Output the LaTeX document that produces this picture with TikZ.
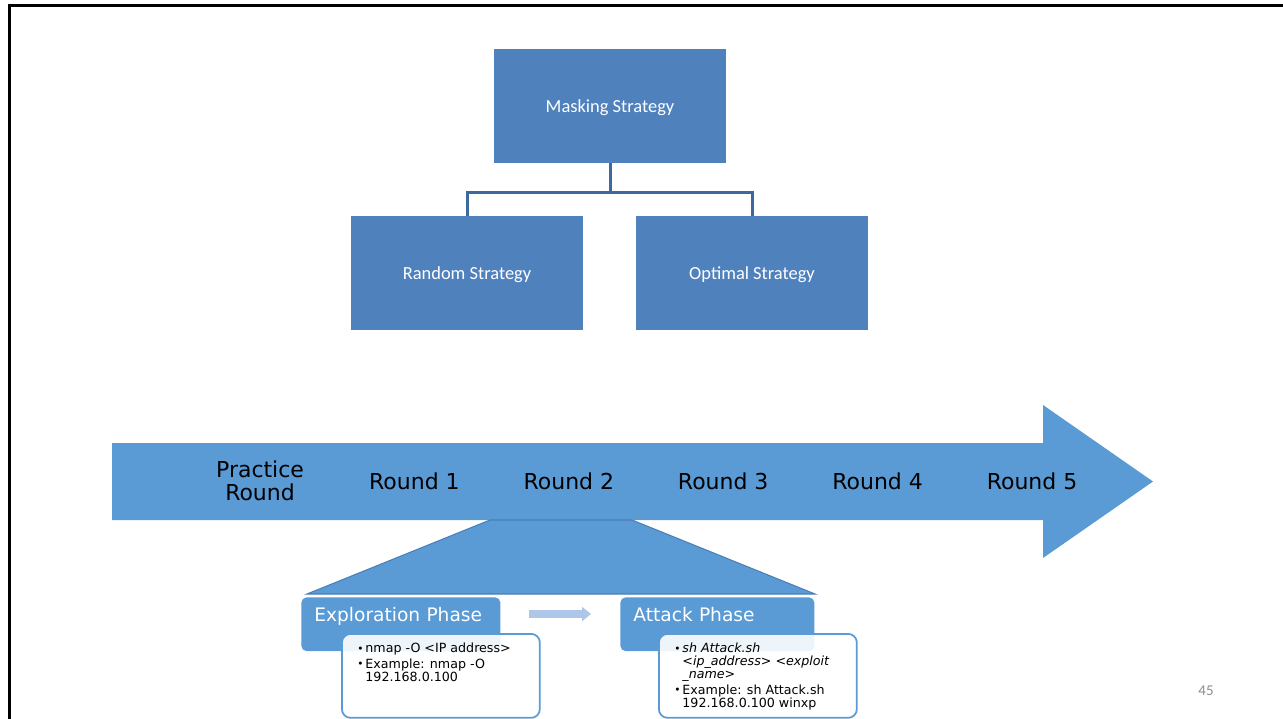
\documentclass[tikz,border=0pt]{standalone}
\usepackage{fontspec}
\newfontfamily\calfont{Carlito}
\newfontfamily\roundfont{DejaVu Sans}
\usetikzlibrary{arrows.meta}
\definecolor{maskblue}{HTML}{4F81BD}
\definecolor{linkblue}{HTML}{3D6A9E}
\definecolor{arrowblue}{HTML}{5B9BD5}
\definecolor{edgeblue}{HTML}{4A7FB6}
\definecolor{paleblue}{HTML}{AEC7E8}
\definecolor{numgrey}{HTML}{8C8C8C}
\newcommand{\bul}{\makebox[4.6pt][l]{\raisebox{0.4pt}{\fontsize{6}{6}\selectfont\textbullet}}}
\newcommand{\cont}{\hspace*{4.6pt}}
\begin{document}
\begin{tikzpicture}[x=0.02cm,y=-0.02cm]
\tikzstyle{strategy}=[fill=maskblue, text=white, font=\calfont\fontsize{10.5}{12}\selectfont, minimum width=4.64cm, minimum height=2.28cm, inner sep=0pt, text height=7.6pt, text depth=0pt]
\tikzstyle{link}=[draw=linkblue, line width=1.7pt]
\tikzstyle{roundlbl}=[font=\roundfont\fontsize{12.5}{13}\selectfont, align=center, inner sep=0pt]
\tikzstyle{phase}=[fill=arrowblue, rounded corners=3pt, text=white, font=\roundfont\fontsize{10.6}{12}\selectfont, anchor=north west, minimum width=3.98cm, text width=3.46cm, align=left, inner xsep=0.26cm, inner ysep=5.7pt, text height=7.8pt, text depth=11.4pt]
\tikzstyle{cmdbox}=[draw=arrowblue, line width=1pt, fill=white, fill opacity=0.9, rounded corners=5pt, anchor=north west, minimum width=3.96cm, minimum height=1.68cm, inner sep=0pt]
\tikzstyle{cmdtext}=[font=\roundfont\fontsize{7.2}{7.4}\selectfont, align=left, anchor=north west, inner sep=0pt]

\useasboundingbox (0,0) rectangle (1283,719);
\draw[line width=1.7pt] (9.5,719) -- (9.5,5.5) -- (1283,5.5);

\draw (610,106) node[strategy] (mask) {Masking Strategy};
\draw (467,273) node[strategy] (random) {Random Strategy};
\draw (752,273) node[strategy] (optimal) {Optimal Strategy};
\draw[link] (mask.south) -- ++(0,29) -| (random.north);
\draw[link] (mask.south) -- ++(0,29) -| (optimal.north);

\fill[arrowblue] (112,443) -- (1043,443) -- (1043,405) -- (1153,481.5) -- (1043,558) -- (1043,520) -- (112,520) -- cycle;
\draw (260,481) node[roundlbl] (practice) {Practice\\Round};
\foreach \i in {1,...,5}
  \draw (260+154.4*\i,481) node[roundlbl] (round\i) {Round \i};

\filldraw[fill=arrowblue, draw=edgeblue, line width=0.6pt] (490,520) -- (632,520) -- (815,594) -- (307,594) -- cycle;

\draw (301,597) node[phase] (explore) {Exploration Phase};
\draw (620,597) node[phase, minimum width=3.88cm, text width=3.36cm] (attack) {Attack Phase};
\draw[paleblue, line width=4.5pt, -{Triangle[length=0.18cm, width=0.28cm]}] ([xshift=0.56cm]explore.east |- 0,614) -- ([xshift=-0.58cm]attack.west |- 0,614);

\draw (341,633) node[cmdbox] (explorecmd) {};
\draw ([shift={(16,10)}]explorecmd.north west) node[cmdtext] (exploretext) {\bul nmap -O <IP address>\\[1.5pt]
\bul Example: nmap -O\\
\cont 192.168.0.100};
\draw (658,633) node[cmdbox] (attackcmd) {};
\draw ([shift={(16,10)}]attackcmd.north west) node[cmdtext] (attacktext) {\bul\textit{sh Attack.sh}\\
\cont\textit{<ip\_address> <exploit}\\
\cont\textit{\_name>}\\[1.5pt]
\bul Example: sh Attack.sh\\
\cont 192.168.0.100 winxp};

\draw (1206,691) node[text=numgrey, font=\calfont\fontsize{8.5}{10}\selectfont] (pagenum) {45};
\end{tikzpicture}
\end{document}
